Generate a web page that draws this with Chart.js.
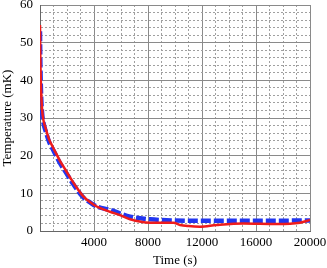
<!DOCTYPE html>
<html>
<head>
<meta charset="utf-8">
<script src="https://cdn.jsdelivr.net/npm/chart.js@4.4.0/dist/chart.umd.min.js"></script>
<style>
  body { margin: 0; background: #fff; }
  canvas { display: block; }
</style>
</head>
<body>
<canvas id="tempChart" width="327" height="268"></canvas>
<script>
// Dati (tempo in s, temperatura in mK)
const redTime = [0, 20, 75, 150, 250, 440, 690, 950, 1190, 1500, 1925, 2300, 2700, 3210, 3700, 4200, 5190, 5930, 6670, 8150, 9000, 9880, 10370, 11000, 11850, 13090, 15060, 17530, 19260, 20000];
const redTemp = [54.7, 47, 38, 32.5, 29.5, 27, 24.2, 22.3, 20.6, 18.5, 16, 13.8, 11.6, 9.2, 7.7, 6.5, 5.1, 4.2, 3.1, 2.2, 2.2, 2.2, 1.6, 1.3, 1.15, 1.6, 2.0, 1.85, 2.2, 2.9];

const blueTime = [0, 20, 75, 150, 250, 440, 690, 950, 1190, 1500, 1925, 2470, 3210, 3700, 4200, 5190, 6670, 8150, 9880, 12000, 16000, 20000];
const blueTemp = [53, 46, 37, 31.5, 28.8, 26.3, 23.5, 21.7, 20, 17.9, 15.5, 12.4, 8.9, 7.6, 6.5, 5.6, 3.8, 3.1, 2.8, 2.7, 2.7, 2.8];

const xTicks = [4000, 8000, 12000, 16000, 20000];
const yTicks = [0, 10, 20, 30, 40, 50, 60];

const toPoints = (xs, ys) => xs.map((x, i) => ({ x: x, y: ys[i] }));

const serif = "'Liberation Serif', 'DejaVu Serif', serif";

const isMajor = (value, step) => Math.abs(value % step) < 1e-6;

const initializeChart = () => {
  const ctx = document.getElementById("tempChart").getContext("2d");
  new Chart(ctx, {
    type: "line",
    data: {
      datasets: [
        {
          label: "red",
          data: toPoints(redTime, redTemp),
          borderColor: "#ee1c1c",
          borderWidth: 2.5,
          pointRadius: 0,
          cubicInterpolationMode: "monotone",
          order: 1,
        },
        {
          label: "blue",
          data: toPoints(blueTime, blueTemp),
          borderColor: "#2236f0",
          borderWidth: 4.5,
          borderDash: [10, 3],
          pointRadius: 0,
          cubicInterpolationMode: "monotone",
          order: 2,
        },
      ],
    },
    options: {
      responsive: false,
      animation: false,
      layout: { padding: 0 },
      plugins: { legend: { display: false }, tooltip: { enabled: false } },
      scales: {
        x: {
          type: "linear",
          min: 0,
          max: 20000,
          afterFit: (scale) => {
            scale.height = 37;
            scale.paddingLeft = 0;
            scale.paddingRight = 17;
          },
          ticks: {
            stepSize: 1000,
            autoSkip: false,
            maxRotation: 0,
            padding: 4,
            color: "#000",
            font: { family: serif, size: 13 },
            callback: (v) => (v > 0 && xTicks.includes(v) ? String(v) : ""),
          },
          grid: {
            drawTicks: false,
            color: (c) => (isMajor(c.tick ? c.tick.value : 0, 4000) ? "#8a8a8a" : "#a0a0a0"),
            lineWidth: 1,
          },
          border: {
            color: "#666",
            width: 1,
            dash: (c) => (c.tick && !isMajor(c.tick.value, 4000) ? [2, 2] : []),
          },
          title: {
            display: true,
            text: "Time (s)",
            color: "#000",
            font: { family: serif, size: 13 },
            padding: { top: 0, bottom: 0 },
          },
        },
        y: {
          min: 0,
          max: 60,
          afterFit: (scale) => {
            scale.width = 40;
            scale.paddingTop = 5;
            scale.paddingBottom = 0;
          },
          ticks: {
            stepSize: 2,
            autoSkip: false,
            padding: 7,
            color: "#000",
            font: { family: serif, size: 13 },
            callback: (v) => (yTicks.includes(v) ? String(v) : ""),
          },
          grid: {
            drawTicks: false,
            color: (c) => (isMajor(c.tick ? c.tick.value : 0, 10) ? "#8a8a8a" : "#a0a0a0"),
            lineWidth: 1,
          },
          border: {
            color: "#666",
            width: 1,
            dash: (c) => (c.tick && !isMajor(c.tick.value, 10) ? [2, 2] : []),
          },
          title: {
            display: true,
            text: "Temperature (mK)",
            color: "#000",
            font: { family: serif, size: 13 },
            padding: { top: 0, bottom: 0 },
          },
        },
      },
    },
  });
};

document.addEventListener("DOMContentLoaded", initializeChart);
</script>
</body>
</html>
